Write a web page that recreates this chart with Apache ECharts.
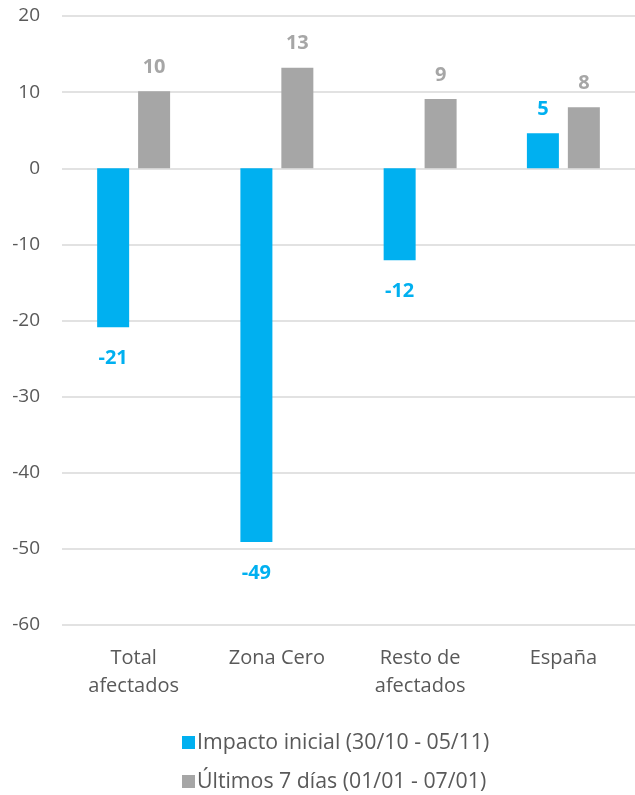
<!DOCTYPE html>
<html>
<head>
<meta charset="utf-8">
<script src="https://cdn.jsdelivr.net/npm/echarts@6/dist/echarts.min.js"></script>
<style>
  html, body { margin: 0; padding: 0; background: #fff; }
  #main { width: 635px; height: 795px; }
</style>
</head>
<body>
<div id="main"></div>
<script>
// datos
var categorias = ['Total\nafectados', 'Zona Cero', 'Resto de\nafectados', 'España']
var impactoInicial = [-20.9, -49.1, -12.1, 4.6]
var ultimos7 = [10.1, 13.2, 9.1, 8.0]
var nombres = ['Impacto inicial (30/10 - 05/11)', 'Últimos 7 días (01/01 - 07/01)']
var colores = ['#00B0F0', '#A6A6A6']

var fuente = '"Open Sans"'

// etiqueta arriba si es positivo, abajo si es negativo
let conEtiquetas = function (valores, color) {
  return valores.map(function (v) {
    return {
      value: v,
      label: {
        show: true,
        position: v < 0 ? 'bottom' : 'top',
        distance: v < 0 ? 21 : 14,
        color: color,
        fontWeight: 'bold',
        fontSize: 20,
        fontFamily: fuente,
        formatter: function (p) { return Math.round(p.value) }
      }
    }
  })
}

// una leyenda por fila
let leyenda = function (nombre, top) {
  return {
    left: 177,
    top: top,
    itemWidth: 13,
    itemHeight: 13,
    itemGap: 0,
    icon: 'rect',
    textStyle: { color: '#595959', fontSize: 21.3, fontFamily: fuente, padding: [0, 0, 0, -3] },
    data: [nombre]
  }
}

var chart = echarts.init(document.getElementById('main'))
var option = {
  animation: false,
  color: colores,
  grid: { left: 62, right: 0, top: 16, bottom: 170 },
  legend: [leyenda(nombres[0], 727), leyenda(nombres[1], 766)],
  xAxis: {
    type: 'category',
    data: categorias,
    axisLine: { show: false },
    axisTick: { show: false },
    axisLabel: { color: '#595959', fontSize: 20, fontFamily: fuente, margin: 19, lineHeight: 28 }
  },
  yAxis: {
    type: 'value',
    min: -60,
    max: 20,
    interval: 10,
    axisLine: { show: false },
    axisTick: { show: false },
    splitLine: { lineStyle: { color: '#D9D9D9', width: 1.5 } },
    axisLabel: { color: '#595959', fontSize: 19, fontFamily: fuente, margin: 22 }
  },
  series: [
    {
      name: nombres[0],
      type: 'bar',
      barWidth: 32,
      barGap: '28%',
      data: conEtiquetas(impactoInicial, colores[0])
    },
    {
      name: nombres[1],
      type: 'bar',
      barWidth: 32,
      data: conEtiquetas(ultimos7, colores[1])
    }
  ]
}
chart.setOption(option)
</script>
</body>
</html>
